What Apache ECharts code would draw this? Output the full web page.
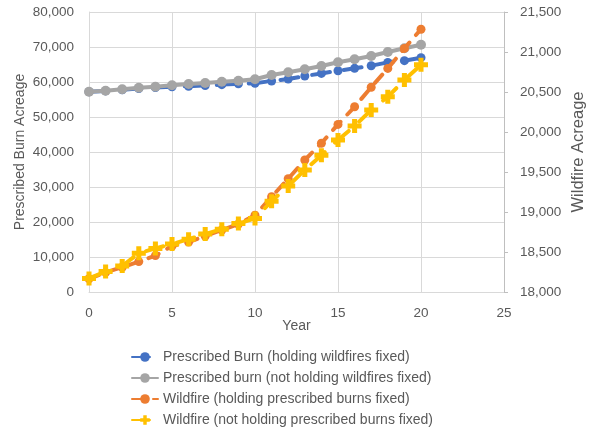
<!DOCTYPE html>
<html>
<head>
<meta charset="utf-8">
<script src="https://cdn.jsdelivr.net/npm/echarts@6/dist/echarts.min.js"></script>
<style>
  html, body { margin: 0; padding: 0; background: #ffffff; }
  #chart { width: 590px; height: 431px; }
</style>
</head>
<body>
<div id="chart"></div>
<script>
// Years 0..20
const years = [0,1,2,3,4,5,6,7,8,9,10,11,12,13,14,15,16,17,18,19,20];

// Prescribed burn acreage (left axis)
const burnHoldingWildfires = [57200,57450,57800,58150,58400,58650,58800,59000,59250,59500,59650,60300,60850,61700,62450,63200,63900,64650,65600,66100,66950];
const burnNotHoldingWildfires = [57230,57510,57910,58370,58660,59060,59430,59710,60090,60370,60780,62000,62770,63630,64570,65630,66490,67430,68570,69630,70660];

// Wildfire acreage (right axis)
const wildfireHoldingBurns = [18165,18245,18310,18380,18455,18575,18625,18700,18775,18850,18960,19190,19415,19650,19860,20095,20315,20560,20795,21045,21285];
const wildfireNotHoldingBurns = [18170,18255,18325,18485,18545,18600,18660,18725,18785,18855,18920,19135,19325,19525,19710,19900,20075,20275,20440,20650,20840];

const seriesNames = [
  'Prescribed Burn (holding wildfires fixed)',
  'Prescribed burn (not holding wildfires fixed)',
  'Wildfire (holding prescribed burns fixed)',
  'Wildfire (not holding prescribed burns fixed)'
];

const FONT = 'Liberation Sans';
const TXT = '#595959';
const GRID = '#d9d9d9';

function pairs(vals) { return years.map((x, i) => [x, vals[i]]); }

// fat plus-shaped marker
const plusMarker = 'path://M3.2,0 H6.8 V3.2 H10 V6.8 H6.8 V10 H3.2 V6.8 H0 V3.2 H3.2 Z';

const chart = echarts.init(document.getElementById('chart'), null, { renderer: 'canvas' });

chart.setOption({
  animation: false,
  backgroundColor: '#ffffff',
  textStyle: { fontFamily: FONT },
  grid: { left: 89, right: 86, top: 12, bottom: 139, containLabel: false, outerBoundsMode: 'none' },
  legend: {
    orient: 'vertical',
    left: 131,
    top: 350,
    padding: 0,
    itemWidth: 26,
    itemHeight: 12,
    itemGap: 7,
    textStyle: { color: TXT, fontSize: 14, fontFamily: FONT },
    data: seriesNames
  },
  xAxis: {
    type: 'value',
    min: 0, max: 25, interval: 5,
    name: 'Year',
    nameLocation: 'middle',
    nameGap: 27,
    nameMoveOverlap: false,
    nameTextStyle: { color: TXT, fontSize: 14, fontFamily: FONT },
    axisLine: { show: true, lineStyle: { color: GRID, width: 1 } },
    axisTick: { show: false },
    axisLabel: { color: TXT, fontSize: 13.5, margin: 14, fontFamily: FONT },
    splitLine: { show: true, lineStyle: { color: GRID, width: 1 } }
  },
  yAxis: [
    {
      type: 'value',
      min: 0, max: 80000, interval: 10000,
      name: 'Prescribed Burn Acreage',
      nameLocation: 'middle',
      nameGap: 62,
      nameRotate: 90,
      nameMoveOverlap: false,
      nameTextStyle: { color: TXT, fontSize: 14, fontFamily: FONT },
      axisLine: { show: true, lineStyle: { color: GRID, width: 1 } },
      axisTick: { show: false },
      axisLabel: {
        color: TXT, fontSize: 13.5, margin: 15, fontFamily: FONT,
        formatter: v => v.toLocaleString('en-US')
      },
      splitLine: { show: true, lineStyle: { color: GRID, width: 1 } }
    },
    {
      type: 'value',
      position: 'right',
      min: 18000, max: 21500, interval: 500,
      name: 'Wildfire Acreage',
      nameLocation: 'middle',
      nameGap: 66,
      nameRotate: 90,
      nameMoveOverlap: false,
      nameTextStyle: { color: TXT, fontSize: 16.5, fontFamily: FONT },
      axisLine: { show: true, lineStyle: { color: '#bfbfbf', width: 1 } },
      axisTick: { show: true, inside: false, length: 4, lineStyle: { color: '#bfbfbf' } },
      axisLabel: {
        color: TXT, fontSize: 13.5, margin: 16, fontFamily: FONT,
        formatter: v => v.toLocaleString('en-US')
      },
      splitLine: { show: false }
    }
  ],
  series: [
    {
      name: seriesNames[0],
      type: 'line',
      yAxisIndex: 0,
      data: pairs(burnHoldingWildfires),
      symbol: 'circle',
      symbolSize: 9,
      showAllSymbol: true,
      itemStyle: { color: '#4472C4' },
      lineStyle: { color: '#4472C4', width: 4, type: [18, 14], cap: 'round' },
      z: 2
    },
    {
      name: seriesNames[1],
      type: 'line',
      yAxisIndex: 0,
      data: pairs(burnNotHoldingWildfires),
      symbol: 'circle',
      symbolSize: 10,
      showAllSymbol: true,
      itemStyle: { color: '#A5A5A5' },
      lineStyle: { color: '#A5A5A5', width: 4, type: 'solid', cap: 'round' },
      z: 3
    },
    {
      name: seriesNames[2],
      type: 'line',
      yAxisIndex: 1,
      data: pairs(wildfireHoldingBurns),
      symbol: 'circle',
      symbolSize: 9,
      showAllSymbol: true,
      itemStyle: { color: '#ED7D31' },
      lineStyle: { color: '#ED7D31', width: 4, type: [11, 10], cap: 'round' },
      z: 4
    },
    {
      name: seriesNames[3],
      type: 'line',
      yAxisIndex: 1,
      data: pairs(wildfireNotHoldingBurns),
      symbol: plusMarker,
      symbolSize: 14,
      showAllSymbol: true,
      itemStyle: { color: '#FFC000' },
      lineStyle: { color: '#FFC000', width: 4, type: [18, 14], cap: 'round' },
      z: 5
    }
  ]
});
</script>
</body>
</html>
